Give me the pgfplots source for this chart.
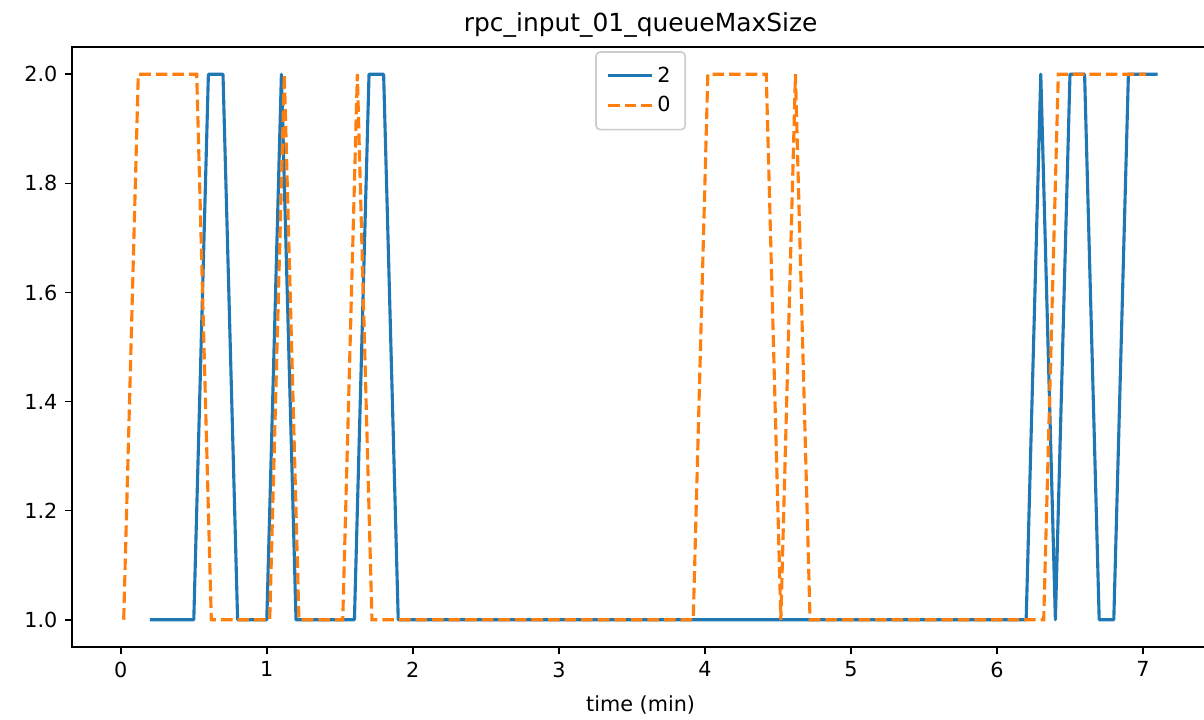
\documentclass[border=0pt]{standalone}
\usepackage{fontspec}
\setmainfont{DejaVu Sans}
\usepackage{pgfplots}
\pgfplotsset{compat=1.18}
\definecolor{c0}{HTML}{1F77B4}
\definecolor{c1}{HTML}{FF7F0E}
\begin{document}
\begin{tikzpicture}
\begin{axis}[name=ax, scale only axis, width=545.9bp, height=288bp,
  xmin=-0.334, xmax=7.454, ymin=0.95, ymax=2.05,
  xtick={0,1,2,3,4,5,6,7}, ytick={1,1.2,1.4,1.6,1.8,2},
  yticklabel style={/pgf/number format/.cd, fixed, fixed zerofill, precision=1},
  /pgf/number format/assume math mode=true,
  tick align=outside, major tick length=3.5bp,
  tick style={line width=0.8bp, black},
  axis line style={line width=0.8bp},
  tick pos=left,
  ticklabel style={font=\fontsize{10}{12}\selectfont},
  title={rpc\_input\_01\_queueMaxSize},
  title style={font=\fontsize{12}{14}\selectfont, yshift=-5bp},
  xlabel={time (min)},
  label style={font=\fontsize{10}{12}\selectfont},
  xlabel style={yshift=-2bp},
  legend style={at={(0.5,0.993)}, anchor=north, draw=black!20, rounded corners=2bp,
    font=\fontsize{10}{12}\selectfont, line width=0.8bp, inner xsep=5bp, inner ysep=5bp,
    row sep=1.5bp},
  legend cell align=left,
  legend image code/.code={\draw[#1] (0bp,0bp) -- (21bp,0bp);},
]
\addplot[c0, line width=1.5bp, line join=round] coordinates {
(0.2,1) (0.3,1) (0.4,1) (0.5,1) (0.6,2) (0.7,2) (0.8,1) (0.9,1) (1.0,1)
(1.1,2) (1.2,1) (1.3,1) (1.4,1) (1.5,1) (1.6,1) (1.7,2) (1.8,2) (1.9,1)
(2.0,1) (2.5,1) (3.0,1) (3.5,1) (4.0,1) (4.5,1) (5.0,1) (5.5,1) (6.0,1) (6.1,1) (6.2,1)
(6.3,2) (6.4,1) (6.5,2) (6.6,2) (6.7,1) (6.8,1) (6.9,2) (7.0,2) (7.1,2)
};
\addlegendentry{2}
\addplot[c1, line width=1.5bp, dash pattern=on 5.55bp off 2.4bp] coordinates {
(0.02,1) (0.12,2) (0.22,2) (0.32,2) (0.42,2) (0.52,2) (0.62,1) (0.72,1) (0.82,1) (0.92,1) (1.02,1)
(1.12,2) (1.22,1) (1.32,1) (1.42,1) (1.52,1) (1.62,2) (1.72,1)
(2.02,1) (2.52,1) (3.02,1) (3.52,1) (3.92,1)
(4.02,2) (4.12,2) (4.22,2) (4.32,2) (4.42,2) (4.52,1) (4.62,2) (4.72,1)
(5.02,1) (5.52,1) (6.02,1) (6.32,1)
(6.42,2) (6.52,2) (6.62,2) (6.72,2) (6.82,2) (6.92,2) (7.02,2)
};
\addlegendentry{0}
\end{axis}
\pgfresetboundingbox
\path[use as bounding box] ([xshift=-34.56bp,yshift=-34.56bp]ax.south west) rectangle ([xshift=-2.54bp,yshift=22.56bp]ax.north east);
\end{tikzpicture}
\end{document}
